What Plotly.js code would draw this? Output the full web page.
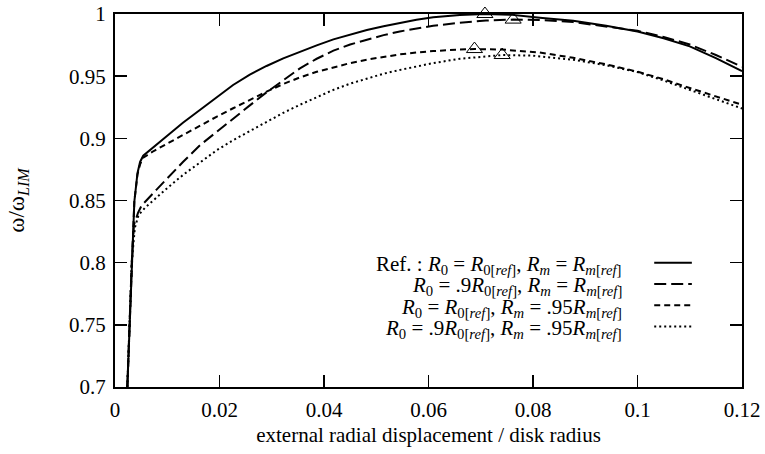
<!DOCTYPE html>
<html>
<head>
<meta charset="utf-8">
<script src="https://cdn.plot.ly/plotly-3.0.1.min.js"></script>
<style>
  html, body { margin: 0; padding: 0; background: #fff; }
  #chart { width: 765px; height: 454px; }
</style>
</head>
<body>
<div id="chart"></div>
<script>
// Reference case: R0 = R0[ref], Rm = Rm[ref]
const xRef = [0.00236, 0.0032, 0.0037, 0.0043, 0.0048, 0.0054, 0.0075, 0.0100, 0.0130, 0.0163,
  0.0195, 0.0226, 0.0258, 0.0290, 0.0322, 0.0354, 0.0386, 0.0418, 0.0450, 0.0482,
  0.0514, 0.0545, 0.0577, 0.0609, 0.0660, 0.0708, 0.0760, 0.0813, 0.0877, 0.0940,
  0.1000, 0.1050, 0.1100, 0.1150, 0.1200];
const yRef = [0.700, 0.800, 0.849, 0.872, 0.881, 0.886, 0.893, 0.902, 0.9125, 0.923,
  0.9335, 0.9429, 0.9513, 0.9582, 0.9643, 0.9697, 0.9748, 0.9796, 0.9836, 0.9871,
  0.9902, 0.9930, 0.9953, 0.9973, 0.9992, 1.0000, 0.9993, 0.9970, 0.9946, 0.9905,
  0.9860, 0.9805, 0.9740, 0.9645, 0.9540];

// R0 = .9 R0[ref], Rm = Rm[ref]
const xR09 = [0.00236, 0.0032, 0.0036, 0.0044, 0.0051, 0.0065, 0.0080, 0.0100, 0.0130, 0.0163,
  0.0195, 0.0226, 0.0258, 0.0290, 0.0322, 0.0354, 0.0386, 0.0418, 0.0450, 0.0482,
  0.0514, 0.0545, 0.0577, 0.0609, 0.0660, 0.0710, 0.0762, 0.0813, 0.0877, 0.0940,
  0.1000, 0.1050, 0.1100, 0.1150, 0.1200];
const yR09 = [0.700, 0.800, 0.830, 0.840, 0.846, 0.8525, 0.859, 0.8678, 0.881, 0.8946,
  0.9055, 0.9160, 0.9265, 0.9370, 0.9470, 0.9563, 0.9640, 0.9705, 0.9755, 0.9795,
  0.9830, 0.9860, 0.9885, 0.9905, 0.9930, 0.9948, 0.9955, 0.9952, 0.9935, 0.9900,
  0.9865, 0.9815, 0.9755, 0.9670, 0.9576];

// R0 = R0[ref], Rm = .95 Rm[ref]
const xRm95 = [0.00236, 0.0032, 0.0037, 0.0043, 0.0048, 0.0054, 0.0075, 0.0100, 0.0130, 0.0163,
  0.0195, 0.0226, 0.0258, 0.0290, 0.0322, 0.0354, 0.0386, 0.0418, 0.0450, 0.0482,
  0.0514, 0.0545, 0.0577, 0.0609, 0.0660, 0.0688, 0.0741, 0.0813, 0.0877, 0.0940,
  0.1000, 0.1050, 0.1100, 0.1150, 0.1200];
const yRm95 = [0.700, 0.800, 0.849, 0.871, 0.879, 0.8845, 0.890, 0.8958, 0.9028, 0.9103,
  0.9175, 0.9242, 0.9310, 0.9375, 0.9437, 0.9490, 0.9535, 0.9573, 0.9605, 0.9633,
  0.9656, 0.9675, 0.9690, 0.9702, 0.9714, 0.9718, 0.9714, 0.9690, 0.9648, 0.9595,
  0.9536, 0.9475, 0.9405, 0.9340, 0.9270];

// R0 = .9 R0[ref], Rm = .95 Rm[ref]
const xBoth = [0.00236, 0.0032, 0.0038, 0.0045, 0.0057, 0.0075, 0.0100, 0.0130, 0.0163, 0.0195,
  0.0226, 0.0258, 0.0290, 0.0322, 0.0354, 0.0386, 0.0418, 0.0450, 0.0482, 0.0514,
  0.0545, 0.0577, 0.0609, 0.0660, 0.0741, 0.0800, 0.0877, 0.0940, 0.1000, 0.1050,
  0.1100, 0.1150, 0.1200];
const yBoth = [0.700, 0.800, 0.828, 0.8383, 0.844, 0.851, 0.860, 0.8705, 0.881, 0.8905,
  0.8985, 0.9060, 0.9135, 0.9205, 0.9270, 0.9333, 0.9390, 0.9440, 0.9483, 0.9520,
  0.9550, 0.9580, 0.9605, 0.9640, 0.9670, 0.9665, 0.9632, 0.9588, 0.9533, 0.9465,
  0.9390, 0.9315, 0.9240];

// Maxima of each curve
const peakX = [0.0708, 0.0762, 0.0688, 0.0741];
const peakY = [1.0000, 0.9955, 0.9718, 0.9670];

const xTicks = [0, 0.02, 0.04, 0.06, 0.08, 0.1, 0.12];
const yTicks = [0.7, 0.75, 0.8, 0.85, 0.9, 0.95, 1];

const legendLabels = [
  'Ref. : <i>R</i><sub>0</sub> = <i>R</i><sub>0[<i>ref</i>]</sub>, <i>R<sub>m</sub></i> = <i>R</i><sub><i>m</i>[<i>ref</i>]</sub>',
  '<i>R</i><sub>0</sub> = .9<i>R</i><sub>0[<i>ref</i>]</sub>, <i>R<sub>m</sub></i> = <i>R</i><sub><i>m</i>[<i>ref</i>]</sub>',
  '<i>R</i><sub>0</sub> = <i>R</i><sub>0[<i>ref</i>]</sub>, <i>R<sub>m</sub></i> = .95<i>R</i><sub><i>m</i>[<i>ref</i>]</sub>',
  '<i>R</i><sub>0</sub> = .9<i>R</i><sub>0[<i>ref</i>]</sub>, <i>R<sub>m</sub></i> = .95<i>R</i><sub><i>m</i>[<i>ref</i>]</sub>'
];
const dashes = ['solid', '12px,5px', '6px,4px', '2px,3px'];
const widths = [2, 2, 2, 2];

const FONT = 'Liberation Serif, Times New Roman, serif';
const series = [[xRef, yRef], [xR09, yR09], [xRm95, yRm95], [xBoth, yBoth]];

const traces = series.map((s, i) => ({
  x: s[0], y: s[1], type: 'scatter', mode: 'lines',
  line: {color: '#000', width: widths[i], dash: dashes[i]},
  showlegend: false, hoverinfo: 'skip'
}));
traces.push({
  x: peakX, y: peakY, type: 'scatter', mode: 'markers', cliponaxis: false,
  marker: {symbol: 'triangle-up-open', size: 14, color: '#000', line: {width: 1, color: '#000'}},
  showlegend: false, hoverinfo: 'skip'
});

// Key placed inside the plot: right-aligned labels followed by line samples
const rowY = [0.327, 0.270, 0.213, 0.156];
const annotations = legendLabels.map((t, i) => ({
  xref: 'paper', yref: 'paper', x: 0.812, y: rowY[i], xanchor: 'right', yanchor: 'middle',
  text: t, showarrow: false, font: {family: FONT, size: 21, color: '#000'}
}));
const shapes = dashes.map((d, i) => ({
  type: 'line', xref: 'paper', yref: 'paper', x0: 0.860, x1: 0.920,
  y0: rowY[i] + 0.006, y1: rowY[i] + 0.006,
  line: {color: '#000', width: widths[i], dash: d}
}));

const axisCommon = {
  showgrid: false, zeroline: false, showline: true, linecolor: '#000', linewidth: 2,
  mirror: 'ticks', ticks: 'inside', ticklen: 12, tickwidth: 1.5, tickcolor: '#000',
  tickfont: {family: FONT, size: 21, color: '#000'}
};

const layout = {
  width: 765, height: 454,
  margin: {l: 115, r: 23, t: 14, b: 67},
  paper_bgcolor: '#fff', plot_bgcolor: '#fff',
  font: {family: FONT, color: '#000'},
  xaxis: Object.assign({}, axisCommon, {
    range: [0, 0.12], tickvals: xTicks, ticktext: xTicks.map(String),
    ticklabelstandoff: 3,
    title: {text: 'external radial displacement / disk radius', font: {family: FONT, size: 21, color: '#000'}, standoff: 6}
  }),
  yaxis: Object.assign({}, axisCommon, {
    range: [0.7, 1], tickvals: yTicks, ticktext: yTicks.map(String),
    ticklabelstandoff: 3,
    title: {text: 'ω/ω<sub><i>LIM</i></sub>', font: {family: FONT, size: 23, color: '#000'}, standoff: 38}
  }),
  annotations: annotations,
  shapes: shapes
};

Plotly.newPlot('chart', traces, layout, {displayModeBar: false, staticPlot: true});
</script>
</body>
</html>
